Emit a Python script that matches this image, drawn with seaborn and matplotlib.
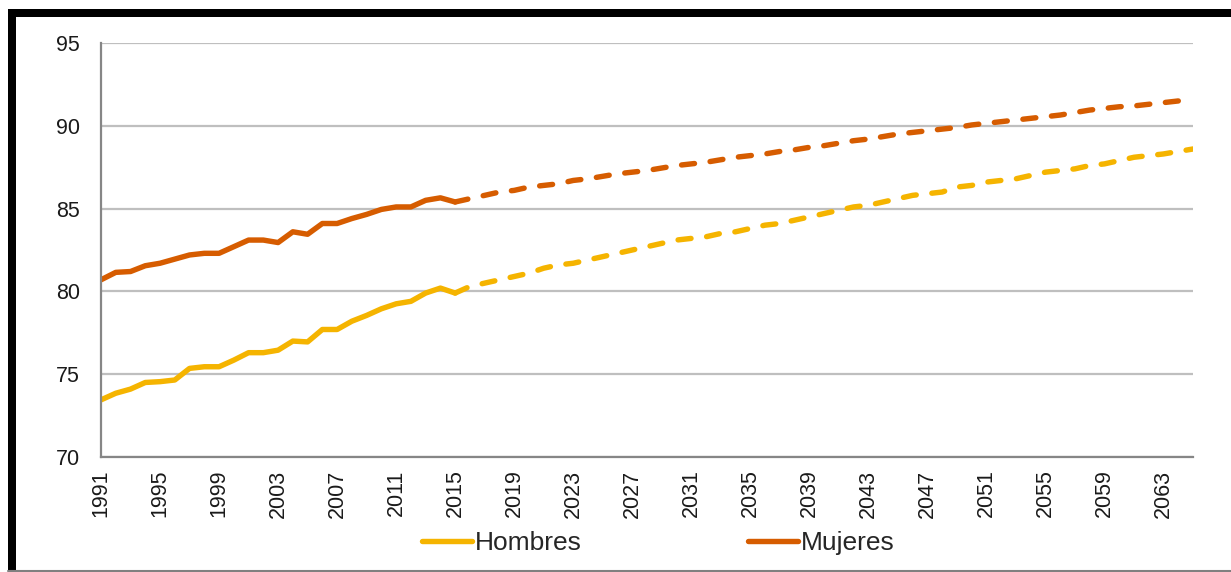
import matplotlib
matplotlib.use("Agg")
import matplotlib.pyplot as plt
import numpy as np
import pandas as pd
import seaborn as sns
from matplotlib.lines import Line2D
from matplotlib.patches import Rectangle
from matplotlib.ticker import MultipleLocator

### Data ###
years_hist = list(range(1991, 2016))
hombres_hist = [73.45, 73.85, 74.1, 74.5, 74.55, 74.65, 75.35, 75.45, 75.45, 75.85,
                76.3, 76.3, 76.45, 77.0, 76.95, 77.7, 77.7, 78.2, 78.55, 78.95,
                79.25, 79.4, 79.9, 80.2, 79.9]
mujeres_hist = [80.7, 81.15, 81.2, 81.55, 81.7, 81.95, 82.2, 82.3, 82.3, 82.7,
                83.1, 83.1, 82.95, 83.6, 83.45, 84.1, 84.1, 84.4, 84.65, 84.95,
                85.1, 85.1, 85.5, 85.65, 85.4]

years_proj = list(range(2015, 2066))
hombres_proj = [79.9, 80.3, 80.5, 80.7, 80.9, 81.1, 81.4, 81.6, 81.7, 81.9,
                82.1, 82.3, 82.5, 82.7, 82.9, 83.1, 83.2, 83.3, 83.5, 83.6,
                83.8, 84.0, 84.1, 84.3, 84.5, 84.7, 84.9, 85.1, 85.2, 85.4,
                85.6, 85.8, 85.9, 86.0, 86.3, 86.4, 86.6, 86.7, 86.8, 87.0,
                87.2, 87.3, 87.4, 87.6, 87.7, 87.9, 88.1, 88.2, 88.3, 88.45,
                88.6]
mujeres_proj = [85.4, 85.6, 85.8, 86.0, 86.1, 86.3, 86.4, 86.5, 86.7, 86.8,
                86.95, 87.1, 87.2, 87.3, 87.45, 87.6, 87.7, 87.8, 87.95, 88.1,
                88.2, 88.3, 88.45, 88.55, 88.7, 88.8, 88.95, 89.1, 89.2, 89.35,
                89.5, 89.6, 89.7, 89.8, 89.9, 90.05, 90.15, 90.25, 90.35, 90.45,
                90.55, 90.65, 90.8, 90.95, 91.05, 91.15, 91.2, 91.3, 91.4, 91.5,
                91.6]

series_names = ['Hombres', 'Mujeres']
colors = {'Hombres': '#F5B400', 'Mujeres': '#D65C00'}

### Table ###
parts = []
for name, hist, proj in [('Hombres', hombres_hist, hombres_proj),
                         ('Mujeres', mujeres_hist, mujeres_proj)]:
    parts.append(pd.DataFrame({'year': years_hist, 'value': hist,
                               'sexo': name, 'tipo': 'hist'}))
    parts.append(pd.DataFrame({'year': years_proj, 'value': proj,
                               'sexo': name, 'tipo': 'proj'}))
df = pd.concat(parts, ignore_index=True)

### Plot ###
sns.set_style('white')
plt.rcParams['font.family'] = ['Liberation Sans', 'DejaVu Sans']

fig = plt.figure(figsize=(12.31, 5.72), dpi=100)
ax = fig.add_axes([101 / 1231, 1 - 457 / 572, (1193 - 101) / 1231, (457 - 43) / 572])

lw = 3.9
for name in series_names:
    for tipo in ['hist', 'proj']:
        sub = df[(df['sexo'] == name) & (df['tipo'] == tipo)]
        sns.lineplot(data=sub, x='year', y='value', ax=ax, color=colors[name],
                     linewidth=lw, legend=False)
        line = ax.lines[-1]
        if tipo == 'proj':
            line.set_dashes((2.4, 2.9))
        line.set_dash_capstyle('round')
        line.set_solid_capstyle('round')
        line.set_solid_joinstyle('round')

ax.set_xlim(1991, 2065)
ax.set_ylim(70, 95)
ax.yaxis.set_major_locator(MultipleLocator(5))
ax.set_xticks(list(range(1991, 2064, 4)))
ax.set_xticks(list(range(1991, 2066)), minor=True)
ax.set_xticklabels([str(y) for y in range(1991, 2064, 4)], rotation=90)
ax.set_xlabel('')
ax.set_ylabel('')

ax.grid(axis='y', color='#bfbfbf', linewidth=1.6)
ax.grid(axis='x', visible=False)
ax.set_axisbelow(True)

for side in ['top', 'right']:
    ax.spines[side].set_visible(False)
for side in ['left', 'bottom']:
    ax.spines[side].set_color('#868686')
    ax.spines[side].set_linewidth(1.6)

ax.tick_params(axis='both', which='both', direction='out', color='#868686',
               width=1.4, labelcolor='#1a1a1a', labelsize=15.5)
ax.tick_params(axis='x', which='both', length=6, pad=3)
ax.tick_params(axis='y', length=5, pad=10)

handles = [Line2D([0], [0], color=colors[n], linewidth=lw, solid_capstyle='round')
           for n in series_names]
fig.legend(handles, series_names, loc='center', bbox_to_anchor=(658 / 1231, 1 - 543 / 572),
           ncol=2, frameon=False, fontsize=19, handlelength=1.9, handletextpad=0.1,
           columnspacing=6.3, borderaxespad=0)

# outer frame
fig.add_artist(Rectangle((8 / 1231, 1 - 17 / 572), 1, 8 / 572, transform=fig.transFigure,
                         color='black', linewidth=0))
fig.add_artist(Rectangle((8 / 1231, 1 - 571 / 572), 8 / 1231, 561 / 572,
                         transform=fig.transFigure, color='black', linewidth=0))
fig.add_artist(Line2D([8 / 1231, 1], [1 - 570.5 / 572, 1 - 570.5 / 572],
                      transform=fig.transFigure, color='#808080', linewidth=1.5))

fig.savefig('out.png', dpi=100)
